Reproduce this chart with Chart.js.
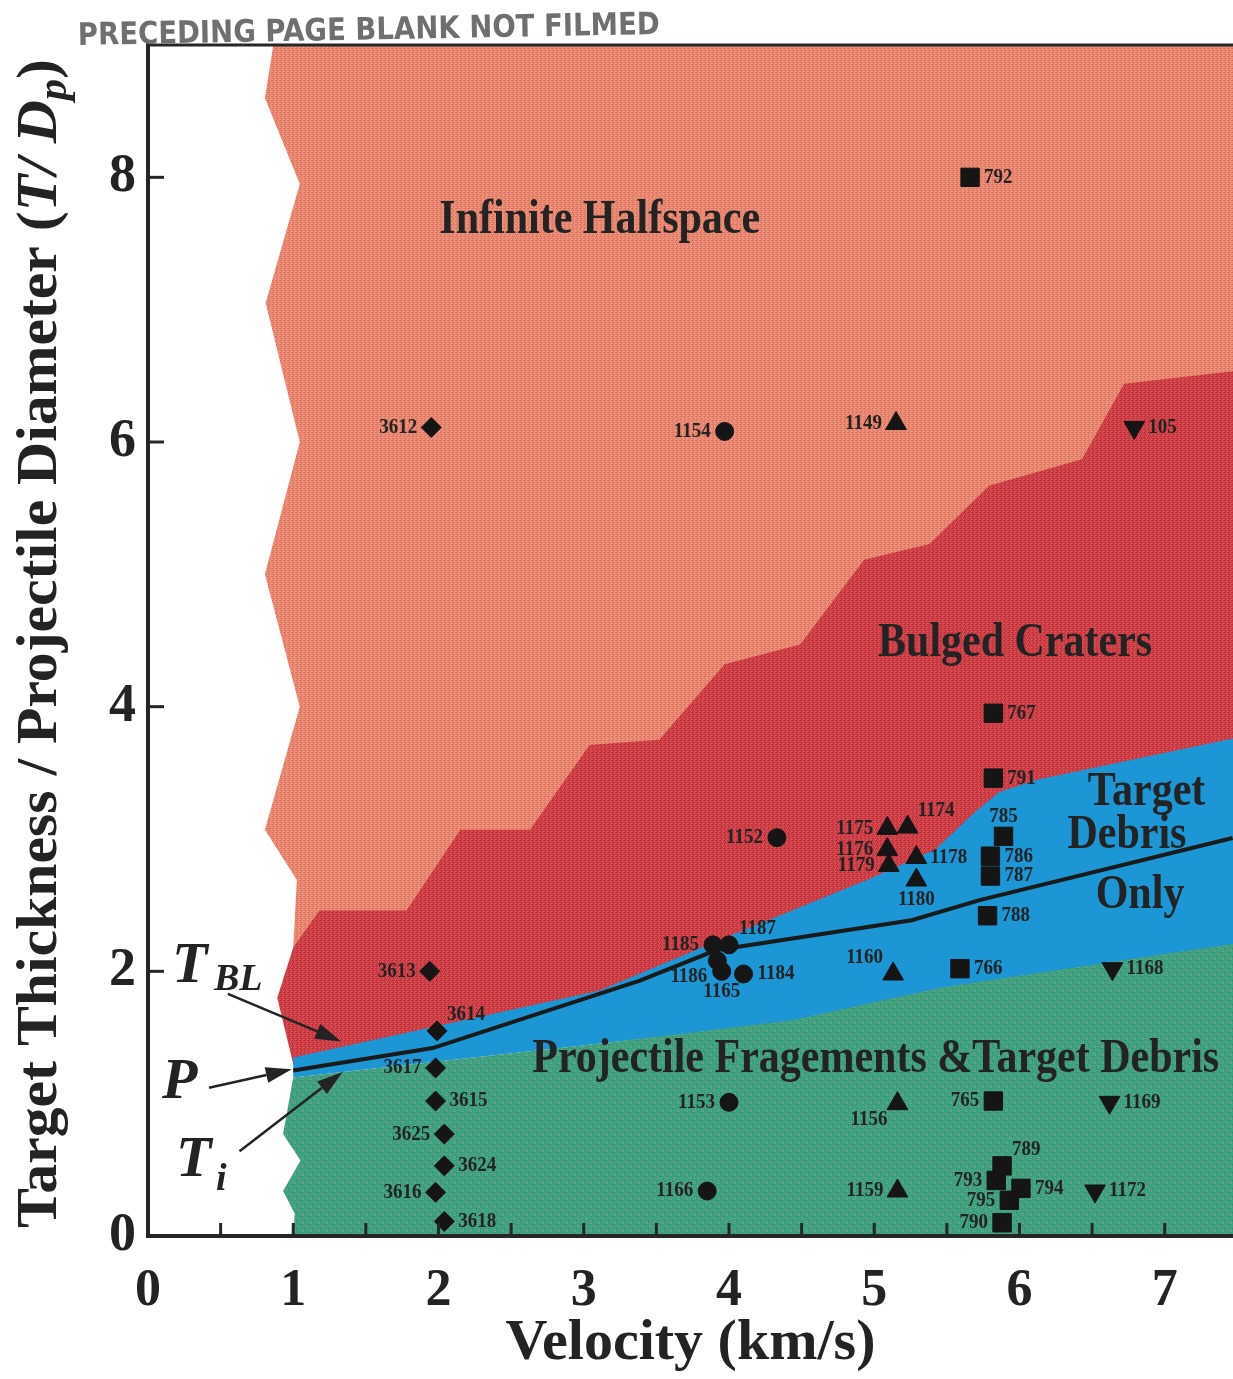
<!DOCTYPE html>
<html>
<head>
<meta charset="utf-8">
<title>Target thickness vs velocity regimes</title>
<script src="https://cdn.jsdelivr.net/npm/chart.js@4.4.1/dist/chart.umd.min.js"></script>
<style>
html,body{margin:0;padding:0;background:#ffffff;}
#box{width:1233px;height:1379px;}
canvas{display:block;}
</style>
</head>
<body>
<div id="box"><canvas id="chart" width="1233" height="1379"></canvas></div>
<script>
// ================= DATA =================
const X_MAX = 7.47;
const Y_MAX = 9.0;
const xTicks = [0,1,2,3,4,5,6,7];
const yTicks = [0,2,4,6,8];
const xMinorTicks = [0.5,1,1.5,2,2.5,3,3.5,4,4.5,5,5.5,6,6.5,7];
const yMajorTicks = [2,4,6,8];

// test shots: diamonds (36xx series)
const diamondLabels = ['3612','3613','3614','3617','3615','3625','3624','3616','3618'];
const diamondX      = [1.95, 1.94, 1.99, 1.98, 1.98, 2.04, 2.04, 1.98, 2.04];
const diamondY      = [6.11, 2.00, 1.55, 1.27, 1.02, 0.77, 0.53, 0.33, 0.11];
const diamondSide   = ['L','L','TR','L','R','L','R','L','R'];

// circles
const circleLabels = ['1154','1152','1185','1187','1186','1165','1184','1153','1166'];
const circleX      = [3.97, 4.33, 3.89, 4.00, 3.92, 3.95, 4.10, 4.00, 3.85];
const circleY      = [6.08, 3.01, 2.20, 2.20, 2.08, 2.00, 1.98, 1.01, 0.34];
const circleSide   = ['L','L','L','TR','BL','B','R','L','L'];

// up triangles
const triLabels = ['1149','1175','1174','1176','1179','1178','1180','1160','1156','1159'];
const triX      = [5.15, 5.09, 5.23, 5.09, 5.10, 5.29, 5.29, 5.13, 5.16, 5.16];
const triY      = [6.14, 3.08, 3.09, 2.92, 2.80, 2.86, 2.69, 1.98, 1.00, 0.34];
const triSide   = ['L','L','TR','L','L','R','B','TL','BL','L'];

// squares
const sqLabels = ['792','767','791','785','786','787','788','766','765','789','793','794','795','790'];
const sqX      = [5.66, 5.82, 5.82, 5.89, 5.80, 5.80, 5.78, 5.59, 5.82, 5.88, 5.84, 6.01, 5.93, 5.88];
const sqY      = [8.00, 3.95, 3.46, 3.02, 2.87, 2.72, 2.42, 2.02, 1.02, 0.53, 0.42, 0.36, 0.27, 0.10];
const sqSide   = ['R','R','R','T','R','R','R','R','L','TR','L','R','L','L'];

// down triangles
const dtriLabels = ['105','1168','1169','1172'];
const dtriX      = [6.79, 6.64, 6.62, 6.52];
const dtriY      = [6.11, 2.02, 1.01, 0.34];
const dtriSide   = ['R','R','R','R'];

// regime boundaries (x = km/s, y = T/Dp)
const halfspaceRegion = [[0.87,9.05],[0.805,8.6],[1.045,7.95],[0.81,7.05],[1.045,6.0],[0.805,5.0],[1.045,4.0],[0.805,3.07],[1.025,2.69],[1.0,2.18],[7.6,2.18],[7.6,9.05]];
const bulgedRegion    = [[1.0,2.18],[1.18,2.46],[1.78,2.46],[2.15,3.07],[2.63,3.07],[3.04,3.71],[3.52,3.75],[3.97,4.32],[4.49,4.47],[4.93,5.11],[5.38,5.23],[5.79,5.67],[6.43,5.87],[6.72,6.44],[7.6,6.55],[7.6,2.5],[1.0,1.3],[0.89,1.8]];
const debrisRegion    = [[1.0,1.348],[3.11,1.856],[4.01,2.27],[4.95,2.69],[5.42,2.92],[5.69,3.2],[5.86,3.356],[6.12,3.447],[7.6,3.79],[7.6,2.0],[1.0,1.197]];
const fragmentRegion  = [[1.0,1.197],[3.11,1.455],[4.425,1.629],[5.471,1.879],[7.6,2.23],[7.6,-0.2],[0.99,-0.2],[1.01,0.17],[0.93,0.34],[1.05,0.57],[0.93,0.77],[1.0,1.197]];
const ballisticLimit  = [[1.0,1.25],[1.96,1.42],[3.386,1.93],[3.909,2.159],[5.258,2.386],[5.726,2.538],[7.467,3.008]];

// region names and their anchor points
const regionNames = ['Infinite Halfspace','Bulged Craters','Target','Debris','Only','Projectile Fragements &Target Debris'];
const regionNameX = [3.11, 5.97, 6.875, 6.74, 6.83, 5.01];
const regionNameY = [7.67, 4.48, 3.35, 3.03, 2.57, 1.33];

// T_BL, P, T_i arrows: tail and tip in data units
const arrowNames = ['TBL','P','Ti'];
const arrowTailX = [0.55, 0.42, 0.63];
const arrowTailY = [1.83, 1.12, 0.64];
const arrowTipX  = [1.33, 0.99, 1.34];
const arrowTipY  = [1.47, 1.26, 1.24];

// ================= STYLE =================
const SERIF = '"Liberation Serif","Times New Roman",Times,serif';
const INK = '#232323';
const canvas = document.getElementById('chart');
const ctx0 = canvas.getContext('2d');

function makePattern(size, base, dots){
  const c = document.createElement('canvas');
  c.width = size; c.height = size;
  const g = c.getContext('2d');
  g.fillStyle = base; g.fillRect(0,0,size,size);
  dots.forEach(d => { g.fillStyle = d[2]; g.fillRect(d[0], d[1], 1, 1); });
  return ctx0.createPattern(c, 'repeat');
}
const salmonFill = makePattern(4, '#E8866F', [[0,0,'#D86C5C'],[2,1,'#F2A690'],[1,2,'#DA705F'],[3,3,'#F0A18B'],[3,0,'#E27A66']]);
const redFill = makePattern(4, '#CD3E46', [[0,0,'#B92C37'],[2,1,'#DA615F'],[1,2,'#BD303A'],[3,3,'#D95F5E'],[3,1,'#C63740']]);
const blueFill = '#1D96D6';
const greenFill = makePattern(8, '#37A37D', [
  [1,1,'#8C9893'],[3,1,'#8C9893'],[2,2,'#7D8A85'],[1,3,'#8C9893'],[3,3,'#8C9893'],
  [5,5,'#8C9893'],[7,5,'#8C9893'],[6,6,'#7D8A85'],[5,7,'#8C9893'],[7,7,'#8C9893'],
  [0,4,'#2E8C6A'],[4,0,'#2E8C6A'],[6,2,'#46B08A'],[2,6,'#46B08A']]);

function toPts(arr){ return arr.map(p => ({x:p[0], y:p[1]})); }
function zipPts(xs, ys){ return xs.map((x,i) => ({x:x, y:ys[i]})); }

function region(label, arr, fillStyle, order){
  return {label, data: toPts(arr), showLine:true, fill:'shape', backgroundColor:fillStyle,
    borderColor:'rgba(0,0,0,0)', borderWidth:1, pointRadius:0, pointHoverRadius:0, tension:0, order};
}
function markers(label, xs, ys, style, radius, rotation, names, sides){
  return {label, data: zipPts(xs, ys), showLine:false, pointStyle:style, pointRadius:radius,
    pointHoverRadius:radius, pointRotation:rotation, backgroundColor:'#151515', borderColor:'#151515',
    borderWidth:1, order:0, _names:names, _sides:sides, _lr:10};
}

const datasets = [
  region('Infinite Halfspace', halfspaceRegion, salmonFill, 10),
  region('Bulged Craters', bulgedRegion, redFill, 9),
  region('Target Debris Only', debrisRegion, blueFill, 8),
  region('Projectile Fragments & Target Debris', fragmentRegion, greenFill, 7),
  {label:'Ballistic limit', data: toPts(ballisticLimit), showLine:true, fill:false, borderColor:'#1a1a1a',
   borderWidth:4, pointRadius:0, pointHoverRadius:0, tension:0, order:1},
  markers('diamond', diamondX, diamondY, 'rectRot', 10, 0, diamondLabels, diamondSide),
  markers('circle', circleX, circleY, 'circle', 9, 0, circleLabels, circleSide),
  markers('triangle', triX, triY, 'triangle', 12, 0, triLabels, triSide),
  markers('square', sqX, sqY, 'rect', 13, 0, sqLabels, sqSide),
  markers('down triangle', dtriX, dtriY, 'triangle', 12, 180, dtriLabels, dtriSide)
];

function stretchedText(ctx, txt, x, y, font, align, sy){
  ctx.save();
  ctx.translate(x, y);
  ctx.scale(1, sy);
  ctx.font = font;
  ctx.textAlign = align;
  ctx.textBaseline = 'middle';
  ctx.fillText(txt, 0, 0);
  ctx.restore();
}

function labelPos(side, x, y, r){
  switch(side){
    case 'L': return [x - r - 4, y, 'right'];
    case 'R': return [x + r + 4, y, 'left'];
    case 'T': return [x, y - r - 10, 'center'];
    case 'B': return [x, y + r + 10, 'center'];
    case 'TL': return [x - r, y - r - 6, 'right'];
    case 'TR': return [x + r, y - r - 6, 'left'];
    case 'BL': return [x - r, y + r + 6, 'right'];
    case 'BR': return [x + r, y + r + 6, 'left'];
  }
  return [x + r + 4, y, 'left'];
}

function arrow(ctx, x1, y1, x2, y2){
  const ang = Math.atan2(y2 - y1, x2 - x1);
  const L = 26, W = 8;
  const bx = x2 - L*Math.cos(ang), by = y2 - L*Math.sin(ang);
  ctx.save();
  ctx.strokeStyle = INK; ctx.fillStyle = INK; ctx.lineWidth = 2.5;
  ctx.beginPath(); ctx.moveTo(x1, y1); ctx.lineTo(bx, by); ctx.stroke();
  ctx.beginPath();
  ctx.moveTo(x2, y2);
  ctx.lineTo(bx + W*Math.sin(ang), by - W*Math.cos(ang));
  ctx.lineTo(bx - W*Math.sin(ang), by + W*Math.cos(ang));
  ctx.closePath(); ctx.fill();
  ctx.restore();
}

const decor = {
  id: 'decor',
  beforeDraw(chart){
    const c = chart.ctx;
    c.save(); c.fillStyle = '#ffffff'; c.fillRect(0, 0, chart.width, chart.height); c.restore();
  },
  afterDatasetsDraw(chart){
    const c = chart.ctx;
    const xs = chart.scales.x, ys = chart.scales.y;
    const a = chart.chartArea;

    // point labels
    c.save();
    c.fillStyle = INK;
    chart.data.datasets.forEach((ds, i) => {
      if (!ds._names) return;
      const meta = chart.getDatasetMeta(i);
      meta.data.forEach((pt, j) => {
        const p = labelPos(ds._sides[j], pt.x, pt.y, ds._lr);
        stretchedText(c, ds._names[j], p[0], p[1], 'bold 19px ' + SERIF, p[2], 1.1);
      });
    });

    // regime names
    c.fillStyle = INK;
    regionNames.forEach((t, i) => {
      stretchedText(c, t, xs.getPixelForValue(regionNameX[i]), ys.getPixelForValue(regionNameY[i]),
        'bold 42px ' + SERIF, 'center', 1.15);
    });

    // arrows
    arrowNames.forEach((n, i) => {
      arrow(c, xs.getPixelForValue(arrowTailX[i]), ys.getPixelForValue(arrowTailY[i]),
               xs.getPixelForValue(arrowTipX[i]), ys.getPixelForValue(arrowTipY[i]));
    });

    // symbol names T_BL, P, T_i
    const big = 'italic bold 58px ' + SERIF, sub = 'italic bold 38px ' + SERIF;
    c.fillStyle = INK;
    c.save(); c.textBaseline = 'alphabetic'; c.textAlign = 'left';
    c.font = big; c.fillText('T', 172, 982);
    c.font = sub; c.fillText('BL', 214, 990);
    c.font = big; c.fillText('P', 162, 1098);
    c.font = big; c.fillText('T', 176, 1176);
    c.font = sub; c.fillText('i', 216, 1190);
    c.restore();

    // frame
    c.strokeStyle = '#262626';
    c.lineCap = 'square';
    c.lineWidth = 4;
    c.beginPath(); c.moveTo(a.left, a.top); c.lineTo(a.left, a.bottom); c.stroke();
    c.lineWidth = 3;
    c.beginPath(); c.moveTo(a.left, a.top); c.lineTo(a.right + 5, a.top); c.stroke();
    c.lineWidth = 4;
    c.beginPath(); c.moveTo(a.left, a.bottom); c.lineTo(a.right + 5, a.bottom); c.stroke();

    // inward tick marks
    c.lineCap = 'butt';
    c.lineWidth = 3;
    xMinorTicks.forEach(v => {
      const px = xs.getPixelForValue(v);
      c.beginPath(); c.moveTo(px, a.bottom); c.lineTo(px, a.bottom - 13); c.stroke();
    });
    yMajorTicks.forEach(v => {
      const py = ys.getPixelForValue(v);
      c.beginPath(); c.moveTo(a.left, py); c.lineTo(a.left + 16, py); c.stroke();
    });
    c.restore();
  },
  afterDraw(chart){
    const c = chart.ctx;
    // y axis title with italic part
    const parts = [
      ['Target Thickness / Projectile Diameter (', 'bold 56px ' + SERIF, 0],
      ['T/ D', 'italic bold 56px ' + SERIF, 0],
      ['p', 'italic bold 40px ' + SERIF, 10],
      [')', 'bold 56px ' + SERIF, 0]
    ];
    c.save();
    let total = 0;
    parts.forEach(p => { c.font = p[1]; total += c.measureText(p[0]).width; });
    const ys = chart.scales.y;
    const start = ys.getPixelForValue(0) - 8, end = ys.getPixelForValue(Y_MAX) + 14;
    const sx = (start - end) / total;
    c.translate(56, start);
    c.rotate(-Math.PI / 2);
    c.scale(sx, 1);
    c.fillStyle = INK;
    c.textBaseline = 'alphabetic';
    c.textAlign = 'left';
    let x = 0;
    parts.forEach(p => { c.font = p[1]; c.fillText(p[0], x, p[2]); x += c.measureText(p[0]).width; });
    c.restore();

    // stamp on the scanned page
    c.save();
    c.translate(78, 45);
    c.rotate(-0.019);
    c.fillStyle = '#6f6f6f';
    c.font = 'bold 31px "DejaVu Sans", "Liberation Sans", sans-serif';
    c.textBaseline = 'alphabetic';
    c.fillText('PRECEDING PAGE BLANK NOT FILMED', 0, 0, 582);
    c.restore();
  }
};

new Chart(ctx0, {
  type: 'line',
  data: { datasets },
  options: {
    responsive: false,
    animation: false,
    devicePixelRatio: 1,
    events: [],
    layout: { autoPadding: false, padding: { top: 45, right: 0, bottom: 0, left: 0 } },
    plugins: { legend: { display: false }, tooltip: { enabled: false } },
    scales: {
      x: {
        type: 'linear', min: 0, max: X_MAX,
        grid: { display: false, drawTicks: false },
        border: { display: false },
        afterBuildTicks: s => { s.ticks = xTicks.map(v => ({ value: v })); },
        ticks: { color: INK, font: { family: SERIF, weight: 'bold', size: 52 }, padding: 24, maxRotation: 0, autoSkip: false },
        title: { display: true, text: 'Velocity (km/s)', color: INK, font: { family: SERIF, weight: 'bold', size: 58 }, padding: { top: 0, bottom: 0 } },
        afterFit: s => { s.height = 143; s.paddingLeft = 0; s.paddingRight = 0; }
      },
      y: {
        type: 'linear', min: 0, max: Y_MAX,
        grid: { display: false, drawTicks: false },
        border: { display: false },
        afterBuildTicks: s => { s.ticks = yTicks.map(v => ({ value: v })); },
        ticks: { color: INK, font: { family: SERIF, weight: 'bold', size: 54 }, padding: 12, autoSkip: false },
        afterFit: s => { s.width = 148; s.paddingTop = 0; s.paddingBottom = 0; }
      }
    }
  },
  plugins: [decor]
});
</script>
</body>
</html>
